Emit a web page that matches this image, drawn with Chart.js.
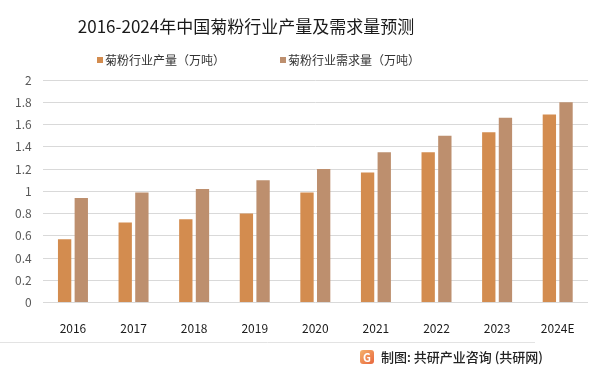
<!DOCTYPE html>
<html>
<head>
<meta charset="utf-8">
<script src="https://cdn.jsdelivr.net/npm/chart.js@4.4.1/dist/chart.umd.min.js"></script>
<style>
    html, body { margin: 0; padding: 0; background: #fff; }
    #wrap { width: 601px; height: 372px; position: relative; }
</style>
</head>
<body>
<div id="wrap"><canvas id="chartInulina"></canvas></div>
<script>
const titulo = '2016-2024年中国菊粉行业产量及需求量预测';
const anios = ['2016', '2017', '2018', '2019', '2020', '2021', '2022', '2023', '2024E'];
const produccion = [0.57, 0.72, 0.75, 0.80, 0.99, 1.17, 1.35, 1.53, 1.69];
const demanda = [0.94, 0.99, 1.02, 1.10, 1.20, 1.35, 1.50, 1.66, 1.80];
const nombresSeries = ['菊粉行业产量（万吨）', '菊粉行业需求量（万吨）'];
const coloresSeries = ['#D38C4F', '#BD8F6E'];
const fuente = '制图: 共研产业咨询 (共研网)';

const FONT = '"Noto Sans CJK SC", "Noto Sans", sans-serif';

// titulo, leyenda y pie dibujados a mano para fijar posiciones
const decoracion = {
    id: 'decoracion',
    afterDraw(chart) {
        const ctx = chart.ctx;
        ctx.save();
        ctx.textBaseline = 'middle';

        ctx.fillStyle = '#1a1a1a';
        ctx.font = '17px ' + FONT;
        ctx.textAlign = 'center';
        ctx.fillText(titulo, 246, 27);

        // leyenda
        const xs = [97, 280];
        ctx.font = '12px ' + FONT;
        ctx.textAlign = 'left';
        nombresSeries.forEach((n, i) => {
            ctx.fillStyle = coloresSeries[i];
            ctx.fillRect(xs[i], 57, 6, 6);
            ctx.fillStyle = '#333';
            ctx.fillText(n, xs[i] + 8, 60);
        });

        // separador y pie
        ctx.strokeStyle = '#e3e3e3';
        ctx.lineWidth = 1;
        ctx.beginPath();
        ctx.moveTo(0, 342.5);
        ctx.lineTo(535, 342.5);
        ctx.stroke();

        const g = ctx.createLinearGradient(360, 350, 374, 364);
        g.addColorStop(0, '#f6b26b');
        g.addColorStop(1, '#e8663d');
        ctx.fillStyle = g;
        ctx.beginPath();
        ctx.roundRect(360, 350, 14, 14, 3);
        ctx.fill();
        ctx.fillStyle = '#fff';
        ctx.font = 'bold 11px ' + FONT;
        ctx.textAlign = 'center';
        ctx.fillText('G', 367, 357.5);

        ctx.fillStyle = '#222';
        ctx.font = '500 13px ' + FONT;
        ctx.textAlign = 'left';
        ctx.fillText(fuente, 381, 357);
        ctx.restore();
    }
};

new Chart(document.getElementById('chartInulina'), {
    type: 'bar',
    data: {
        labels: anios,
        datasets: [{
            label: nombresSeries[0],
            data: produccion,
            backgroundColor: coloresSeries[0],
            categoryPercentage: 0.55,
            barPercentage: 0.8
        }, {
            label: nombresSeries[1],
            data: demanda,
            backgroundColor: coloresSeries[1],
            categoryPercentage: 0.55,
            barPercentage: 0.8
        }]
    },
    options: {
        responsive: true,
        maintainAspectRatio: false,
        animation: false,
        layout: { padding: { top: 80, right: 13, bottom: 25, left: 4 } },
        plugins: {
            legend: { display: false },
            title: { display: false },
            tooltip: { enabled: false }
        },
        scales: {
            y: {
                min: 0,
                max: 2,
                ticks: {
                    stepSize: 0.2,
                    color: '#595959',
                    font: { size: 12, family: FONT },
                    padding: 11,
                    callback: v => Math.round(v * 10) / 10
                },
                grid: { color: '#d9d9d9', drawTicks: false },
                border: { display: false }
            },
            x: {
                ticks: {
                    color: '#1a1a1a',
                    font: { size: 12, family: FONT },
                    padding: 11
                },
                grid: { display: false },
                border: { display: false }
            }
        }
    },
    plugins: [decoracion]
});
</script>
</body>
</html>
